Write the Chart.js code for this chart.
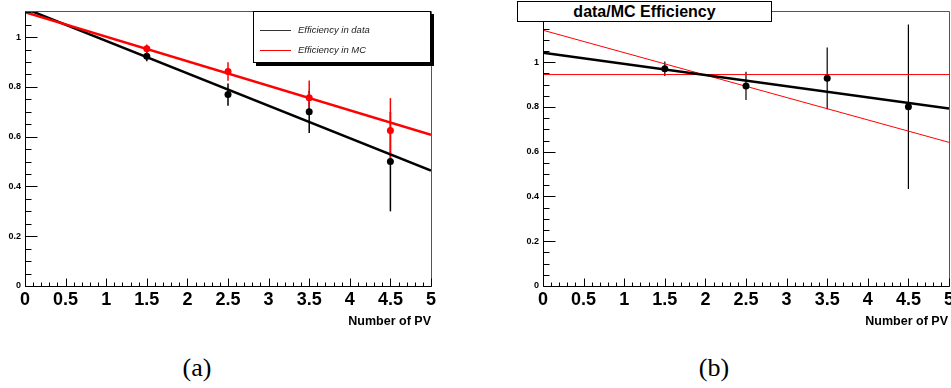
<!DOCTYPE html>
<html>
<head>
<meta charset="utf-8">
<script src="https://cdn.jsdelivr.net/npm/chart.js@4.4.1/dist/chart.umd.min.js"></script>
<style>
  body { margin: 0; background: #fff; width: 951px; height: 388px; overflow: hidden; position: relative;
         font-family: "Liberation Sans", Arial, sans-serif; }
  .panel { position: absolute; top: 0; }
  #wrapA { left: 0; }
  #wrapB { left: 490px; }
  .legend { position: absolute; left: 253px; top: 11px; width: 176px; height: 50px; border: 1px solid #000;
            box-shadow: 3px 3px 0 #000; background: #fff; font-style: italic; font-size: 9.5px; color: #222; z-index: 2; }
  .legend div { position: absolute; left: 6px; height: 12px; line-height: 12px; white-space: nowrap; }
  .legend span.l { display: inline-block; width: 31px; border-top: 1px solid; vertical-align: middle; margin-right: 7px; }
  .title { position: absolute; left: 517px; top: 1px; width: 253px; height: 19px; border: 1px solid #000; background: #fff;
           font-weight: bold; font-size: 16px; text-align: center; line-height: 19px; z-index: 2; }
  .xlab { position: absolute; top: 314px; font-weight: bold; font-size: 12.5px; text-align: right; width: 120px; }
  .cap { position: absolute; top: 355px; width: 60px; text-align: center; line-height: 1;
         font-family: "Liberation Serif", "DejaVu Serif", serif; font-size: 26px; }
</style>
</head>
<body>
<div class="panel" id="wrapA"><canvas id="chartA" width="470" height="340"></canvas></div>
<div class="panel" id="wrapB"><canvas id="chartB" width="470" height="340"></canvas></div>

<div class="legend">
  <div style="top:18px;transform:translateY(-50%)"><span class="l" style="border-color:#333"></span>Efficiency in data</div>
  <div style="top:38px;transform:translateY(-50%)"><span class="l" style="border-color:#f00"></span>Efficiency in MC</div>
</div>
<div class="title">data/MC Efficiency</div>
<div class="xlab" style="left:311px">Number of PV</div>
<div class="xlab" style="left:828px">Number of PV</div>
<div class="cap" style="left:167px">(a)</div>
<div class="cap" style="left:684px">(b)</div>

<script>
// axis tick labels
const xTicks = [0, 0.5, 1, 1.5, 2, 2.5, 3, 3.5, 4, 4.5, 5];
const yTicks = [0, 0.2, 0.4, 0.6, 0.8, 1];

// bin centres (number of primary vertices)
const pvBins = [1.5, 2.5, 3.5, 4.5];

// (a) efficiencies
const effData = [0.923, 0.769, 0.700, 0.500];
const effDataErr = [0.020, 0.045, 0.085, 0.200];
const effMC = [0.953, 0.862, 0.756, 0.625];
const effMCErr = [0.017, 0.037, 0.070, 0.130];

// straight-line fits, evaluated at the ends of the range
const fitX = [0, 5];
const fitData = [1.115, 0.464];
const fitMC = [1.100, 0.608];

// (b) data/MC ratio
const ratio = [0.971, 0.894, 0.928, 0.801];
const ratioErr = [0.032, 0.063, 0.138, 0.368];
const ratioFit = [1.043, 0.793];
const ratioConst = [0.945, 0.945];
const ratioOfFits = [1.143, 0.642];

const pts = (xs, ys) => xs.map((x, i) => ({ x: x, y: ys[i] }));
const fmt = v => String(+Number(v).toFixed(2));

const rootAxes = {
  id: "rootAxes",
  beforeDatasetsDraw(chart, args, opts) {
    const { ctx } = chart;
    const x = chart.scales.x, y = chart.scales.y;
    ctx.save();
    (opts.bars || []).forEach(b => {
      ctx.strokeStyle = b.color;
      ctx.lineWidth = b.width;
      b.x.forEach((xv, i) => {
        const px = x.getPixelForValue(xv);
        ctx.beginPath();
        ctx.moveTo(px, y.getPixelForValue(b.y[i] - b.err[i]));
        ctx.lineTo(px, y.getPixelForValue(b.y[i] + b.err[i]));
        ctx.stroke();
      });
    });
    ctx.restore();
  },
  afterDraw(chart) {
    const { ctx, chartArea: a } = chart;
    const x = chart.scales.x, y = chart.scales.y;
    const L = Math.round(a.left) + 0.5, B = Math.round(a.bottom) + 0.5;
    const R = Math.round(a.right) + 0.5, T = Math.round(a.top) + 0.5;
    ctx.save();
    ctx.lineWidth = 1;
    ctx.strokeStyle = "#555";
    ctx.beginPath();
    ctx.moveTo(L, T); ctx.lineTo(R, T); ctx.lineTo(R, B);
    ctx.stroke();
    ctx.strokeStyle = "#000";
    ctx.beginPath();
    ctx.moveTo(L, T); ctx.lineTo(L, B); ctx.lineTo(R, B);
    for (let i = 0; i <= 50; i++) {
      const px = Math.round(x.getPixelForValue(i * 0.1)) + 0.5;
      ctx.moveTo(px, B);
      ctx.lineTo(px, B - (i % 5 === 0 ? 8 : 4));
    }
    for (let i = 0; i * 0.05 <= y.max + 1e-9; i++) {
      const py = Math.round(y.getPixelForValue(i * 0.05)) + 0.5;
      ctx.moveTo(L, py);
      ctx.lineTo(L + (i % 4 === 0 ? 12 : 6), py);
    }
    ctx.stroke();
    ctx.restore();
  }
};

Chart.defaults.font.family = "'Liberation Sans', Arial, sans-serif";

function makeChart(id, yMax, yWidth, padRight, datasets, bars) {
  return new Chart(document.getElementById(id), {
    type: "scatter",
    data: { datasets: datasets },
    options: {
      responsive: false,
      animation: false,
      layout: { padding: { top: 11, right: padRight, left: 0, bottom: 0 } },
      plugins: { legend: { display: false }, tooltip: { enabled: false }, rootAxes: { bars: bars } },
      scales: {
        x: {
          type: "linear", min: 0, max: 5,
          grid: { display: false, drawTicks: false }, border: { display: false },
          ticks: { color: "#000", font: { size: 18, weight: "bold" }, padding: 3, maxRotation: 0, autoSkip: false,
                   callback: fmt },
          afterBuildTicks: s => { s.ticks = xTicks.map(v => ({ value: v })); },
          afterFit: s => { s.height = 54; }
        },
        y: {
          type: "linear", min: 0, max: yMax,
          grid: { display: false, drawTicks: false }, border: { display: false },
          ticks: { color: "#000", font: { size: 9, weight: "bold" }, padding: 4, callback: fmt },
          afterBuildTicks: s => { s.ticks = yTicks.map(v => ({ value: v })); },
          afterFit: s => { s.width = yWidth; }
        }
      }
    },
    plugins: [rootAxes]
  });
}

const marker = (ys, color) => ({
  data: pts(pvBins, ys), pointRadius: 3.5, pointBorderWidth: 0,
  backgroundColor: color, borderColor: color, showLine: false
});
const line = (ys, color, w) => ({
  data: pts(fitX, ys), showLine: true, pointRadius: 0, borderColor: color,
  backgroundColor: color, borderWidth: w, fill: false
});

makeChart("chartA", 1.105, 25, 39, [
  marker(effMC, "#f00"),
  line(fitMC, "#f00", 2.5),
  marker(effData, "#000"),
  line(fitData, "#000", 2.5)
], [
  { x: pvBins, y: effData, err: effDataErr, color: "#000", width: 1.5 },
  { x: pvBins, y: effMC, err: effMCErr, color: "#f00", width: 1.5 }
]);

makeChart("chartB", 1.229, 53, 11, [
  marker(ratio, "#000"),
  line(ratioFit, "#000", 2.5),
  line(ratioConst, "#f00", 1),
  line(ratioOfFits, "#f00", 1)
], [
  { x: pvBins, y: ratio, err: ratioErr, color: "#000", width: 1.2 }
]);
</script>
</body>
</html>
